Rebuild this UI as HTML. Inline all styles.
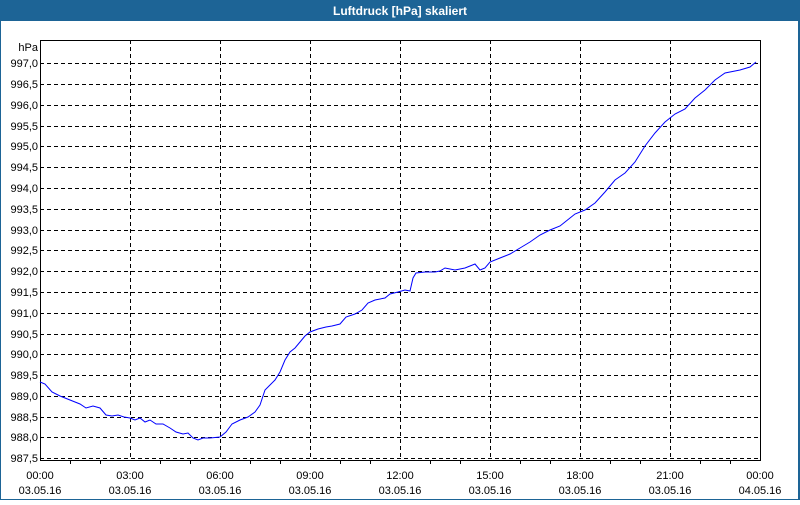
<!DOCTYPE html>
<html><head><meta charset="utf-8"><style>
body{margin:0;width:800px;height:500px;overflow:hidden;background:#fff;font-family:"Liberation Sans",sans-serif}
</style></head><body>
<svg width="800" height="500" xmlns="http://www.w3.org/2000/svg" font-family="Liberation Sans, sans-serif">
<rect x="0" y="0" width="800" height="500" fill="#1d6496"/>
<rect x="1" y="21" width="797" height="478" fill="#fff"/>
<text x="400" y="15" fill="#fff" font-size="12" font-weight="bold" text-anchor="middle">Luftdruck [hPa] skaliert</text>
<g stroke="#000" stroke-width="1" stroke-dasharray="4,3" shape-rendering="crispEdges">
<line x1="40" x2="760" y1="63.5" y2="63.5"/><line x1="40" x2="760" y1="84.5" y2="84.5"/><line x1="40" x2="760" y1="105.5" y2="105.5"/><line x1="40" x2="760" y1="126.5" y2="126.5"/><line x1="40" x2="760" y1="146.5" y2="146.5"/><line x1="40" x2="760" y1="167.5" y2="167.5"/><line x1="40" x2="760" y1="188.5" y2="188.5"/><line x1="40" x2="760" y1="209.5" y2="209.5"/><line x1="40" x2="760" y1="230.5" y2="230.5"/><line x1="40" x2="760" y1="250.5" y2="250.5"/><line x1="40" x2="760" y1="271.5" y2="271.5"/><line x1="40" x2="760" y1="292.5" y2="292.5"/><line x1="40" x2="760" y1="313.5" y2="313.5"/><line x1="40" x2="760" y1="334.5" y2="334.5"/><line x1="40" x2="760" y1="354.5" y2="354.5"/><line x1="40" x2="760" y1="375.5" y2="375.5"/><line x1="40" x2="760" y1="396.5" y2="396.5"/><line x1="40" x2="760" y1="417.5" y2="417.5"/><line x1="40" x2="760" y1="437.5" y2="437.5"/><line x1="40" x2="760" y1="458.5" y2="458.5"/>
<line x1="130.5" x2="130.5" y1="40" y2="460"/><line x1="220.5" x2="220.5" y1="40" y2="460"/><line x1="310.5" x2="310.5" y1="40" y2="460"/><line x1="400.5" x2="400.5" y1="40" y2="460"/><line x1="490.5" x2="490.5" y1="40" y2="460"/><line x1="580.5" x2="580.5" y1="40" y2="460"/><line x1="670.5" x2="670.5" y1="40" y2="460"/>
</g>
<rect x="40.5" y="40.5" width="720" height="420" fill="none" stroke="#000" shape-rendering="crispEdges"/>
<g stroke="#000" shape-rendering="crispEdges">
<line x1="70.5" x2="70.5" y1="460" y2="464"/><line x1="100.5" x2="100.5" y1="460" y2="464"/><line x1="160.5" x2="160.5" y1="460" y2="464"/><line x1="190.5" x2="190.5" y1="460" y2="464"/><line x1="250.5" x2="250.5" y1="460" y2="464"/><line x1="280.5" x2="280.5" y1="460" y2="464"/><line x1="340.5" x2="340.5" y1="460" y2="464"/><line x1="370.5" x2="370.5" y1="460" y2="464"/><line x1="430.5" x2="430.5" y1="460" y2="464"/><line x1="460.5" x2="460.5" y1="460" y2="464"/><line x1="520.5" x2="520.5" y1="460" y2="464"/><line x1="550.5" x2="550.5" y1="460" y2="464"/><line x1="610.5" x2="610.5" y1="460" y2="464"/><line x1="640.5" x2="640.5" y1="460" y2="464"/><line x1="700.5" x2="700.5" y1="460" y2="464"/><line x1="730.5" x2="730.5" y1="460" y2="464"/>
</g>
<g font-size="11" fill="#000" text-anchor="end">
<text x="38" y="51">hPa</text>
<text x="38" y="67">997,0</text><text x="38" y="88">996,5</text><text x="38" y="109">996,0</text><text x="38" y="130">995,5</text><text x="38" y="150">995,0</text><text x="38" y="171">994,5</text><text x="38" y="192">994,0</text><text x="38" y="213">993,5</text><text x="38" y="234">993,0</text><text x="38" y="254">992,5</text><text x="38" y="275">992,0</text><text x="38" y="296">991,5</text><text x="38" y="317">991,0</text><text x="38" y="338">990,5</text><text x="38" y="358">990,0</text><text x="38" y="379">989,5</text><text x="38" y="400">989,0</text><text x="38" y="421">988,5</text><text x="38" y="441">988,0</text><text x="38" y="462">987,5</text>
</g>
<g font-size="11" fill="#000" text-anchor="middle">
<text x="40" y="479">00:00</text><text x="40" y="494">03.05.16</text>
<text x="130" y="479">03:00</text><text x="130" y="494">03.05.16</text>
<text x="220" y="479">06:00</text><text x="220" y="494">03.05.16</text>
<text x="310" y="479">09:00</text><text x="310" y="494">03.05.16</text>
<text x="400" y="479">12:00</text><text x="400" y="494">03.05.16</text>
<text x="490" y="479">15:00</text><text x="490" y="494">03.05.16</text>
<text x="580" y="479">18:00</text><text x="580" y="494">03.05.16</text>
<text x="670" y="479">21:00</text><text x="670" y="494">03.05.16</text>
<text x="760" y="479">00:00</text><text x="760" y="494">04.05.16</text>
</g>
<polyline fill="none" stroke="#0000ff" stroke-width="1" points="40,382 45,384 52,392 60,396 70,400 80,404 86,408 93,406 100,408 106,415 112,416 118,415 124,417 130,418 135,420 140,418 145,422 150,420 156,424 163,424 170,428 176,432 183,434 188,433 193,438 198,440 203,438 210,438 220,437 226,432 232,424 240,420 248,417 255,412 260,405 265,390 270,385 275,380 280,372 285,360 290,352 295,348 300,342 305,336 310,332 318,329 326,327 332,326 340,324 346,317 355,314 362,310 368,303 375,300 385,298 390,294 398,292 405,290 410,291 413,278 416,273 425,272 435,272 440,271 445,268 455,270 465,268 470,266 475,264 480,270 485,268 490,262 500,258 510,254 520,248 530,242 540,235 550,230 560,226 565,222 575,214 585,210 595,203 605,192 615,180 625,173 635,162 645,146 655,133 665,122 675,114 685,109 695,98 705,90 715,80 725,73 740,70 750,67 756,62"/>
</svg>
</body></html>
